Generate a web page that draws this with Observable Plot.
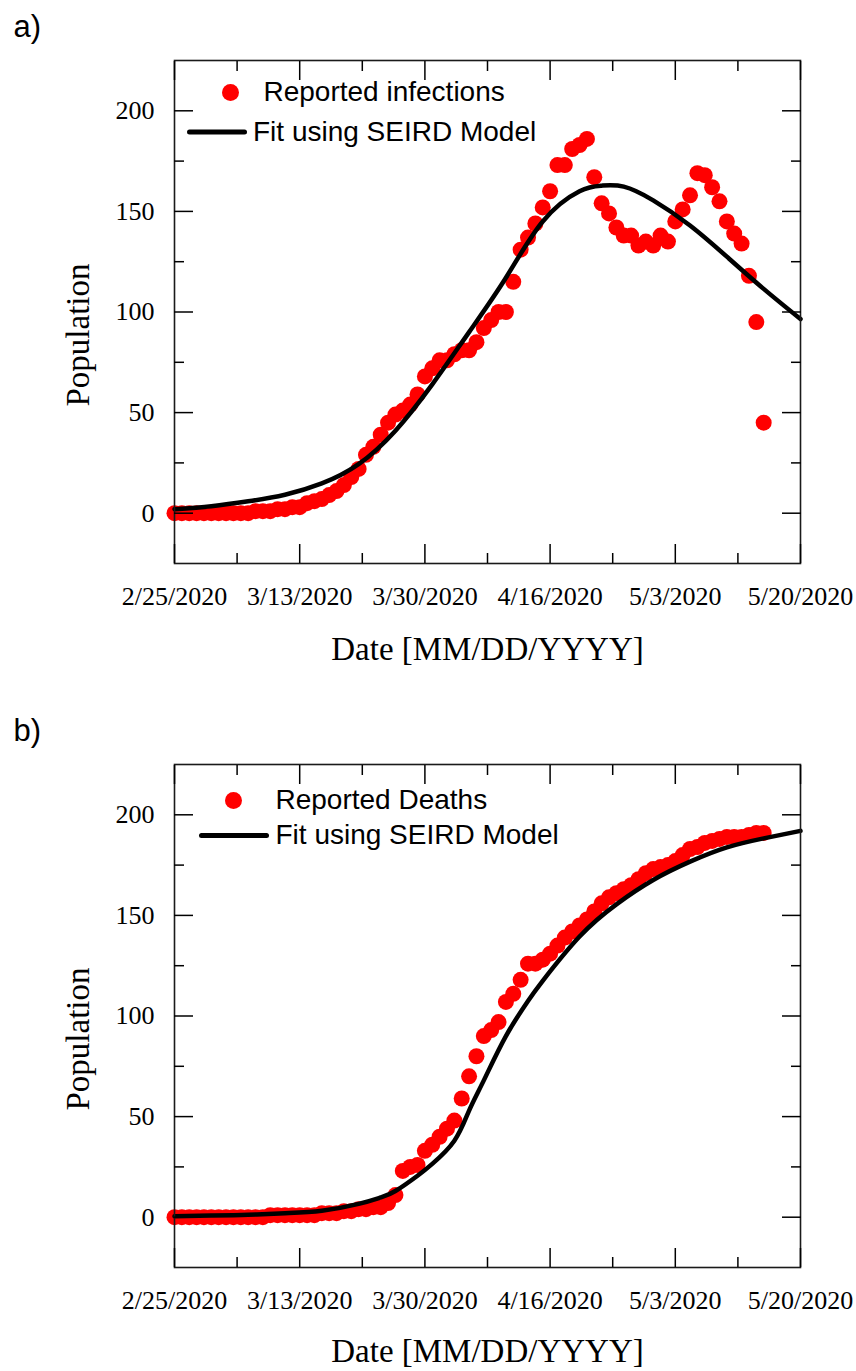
<!DOCTYPE html>
<html><head><meta charset="utf-8">
<script src="https://cdn.jsdelivr.net/npm/d3@7"></script>
<script src="https://cdn.jsdelivr.net/npm/@observablehq/plot@0.6"></script>
<style>
body{margin:0;background:#fff}
#wrap{width:856px}
#wrap svg{display:block;overflow:visible}
</style>
</head><body><div id="wrap"></div>
<script>
// x = days since 2/25/2020
const xTickDays = [0, 17, 34, 51, 68, 85];
const xTickLabels = ["2/25/2020", "3/13/2020", "3/30/2020", "4/16/2020", "5/3/2020", "5/20/2020"];
const xMinorDays = [8.5, 25.5, 42.5, 59.5, 76.5];
const yTicks = [0, 50, 100, 150, 200];
const yMinor = [25, 75, 125, 175];

// reported daily infections, day 0..80
const infections = [0,0,0,0,0,0,0,0,0,0, 0,1,1,1,2,2,3,3,5,6,
  7,9,11,14,18,22,29,33,39,45, 49,51,54,59,68,72,76,76,79,81,
  81,85,92,96,100,100,115,131,137,144, 152,160,173,173,181,183,186,167,154,149,
  142,138,138,133,135,133,138,135,145,151, 158,169,168,162,155,145,139,134,118,95,
  45];
// reported cumulative deaths, day 0..80
const deaths = [0,0,0,0,0,0,0,0,0,0, 0,0,0,1,1,1,1,1,1,1,
  2,2,2,3,3,4,4,5,5,7, 11,23,25,26,33,36,40,44,48,59,
  70,80,90,93,97,107,111,118,126,126, 128,131,135,139,142,145,148,152,156,159,
  161,163,165,168,171,173,174,175,177,180, 183,184,186,187,188,189,189,189,190,191,
  191];

const fitInfDays = [0,5,10,15,20,25,30,35,40,45,50,55,58,61,65,70,75,80,85];
const fitInfValues = [2,3.5,5.9,9.2,14.8,24.4,41,64,90,117,145,160,162.8,162.3,155.5,143,127.5,111.5,96.5];
const fitDeathDays = [0,5,10,15,20,25,28,30,33,35,38,40,42,45,48,50,55,60,65,70,75,80,85];
const fitDeathValues = [0.5,0.8,1.2,2,3.2,6.6,9.8,13,20.6,26.5,38,53,68,90,107.5,117.5,139.5,155.5,167.6,176.7,183.8,188.3,192];

const serif = "Liberation Serif, Times New Roman, serif";
const sans = "Liberation Sans, Arial, sans-serif";

function lineSym(len) {
  return {draw(ctx) { ctx.moveTo(-len / 2, 0); ctx.lineTo(len / 2, 0); }};
}

function panel(o) {
  const pts = o.values.map((v, i) => ({day: i, value: v}));
  const fit = o.fitDays.map((d, i) => ({day: d, value: o.fitVals[i]}));
  const tickFmt = d => xTickLabels[xTickDays.indexOf(d)];
  const blank = () => "";
  return Plot.plot({
    width: 856,
    height: o.height,
    marginLeft: 174,
    marginRight: 56,
    marginTop: 60,
    marginBottom: o.marginBottom,
    style: {fontFamily: serif, fontSize: "26px", color: "#000", background: "#fff", overflow: "visible"},
    x: {domain: [0, 85], label: null},
    y: {domain: [-25, 225], label: null},
    marks: [
      Plot.dot(pts, {x: "day", y: "value", r: 8, fill: "#ff0000"}),
      Plot.line(fit, {x: "day", y: "value", curve: "natural", stroke: "#000", strokeWidth: 4.5}),
      Plot.frame({stroke: "#1a1a1a", strokeWidth: 1.6}),
      // inward ticks on all sides
      Plot.axisX({anchor: "bottom", ticks: xTickDays, tickSize: -19, tickFormat: blank, label: null, strokeWidth: 1.5}),
      Plot.axisX({anchor: "bottom", ticks: xMinorDays, tickSize: -10, tickFormat: blank, label: null, strokeWidth: 1.5}),
      Plot.axisX({anchor: "top", ticks: xTickDays, tickSize: -19, tickFormat: blank, label: null, strokeWidth: 1.5}),
      Plot.axisX({anchor: "top", ticks: xMinorDays, tickSize: -10, tickFormat: blank, label: null, strokeWidth: 1.5}),
      Plot.axisY({anchor: "left", ticks: yTicks, tickSize: -19, tickFormat: blank, label: null, strokeWidth: 1.5}),
      Plot.axisY({anchor: "left", ticks: yMinor, tickSize: -10, tickFormat: blank, label: null, strokeWidth: 1.5}),
      Plot.axisY({anchor: "right", ticks: yTicks, tickSize: -19, tickFormat: blank, label: null, strokeWidth: 1.5}),
      Plot.axisY({anchor: "right", ticks: yMinor, tickSize: -10, tickFormat: blank, label: null, strokeWidth: 1.5}),
      // tick labels
      Plot.axisX({anchor: "bottom", ticks: xTickDays, tickSize: 0, tickPadding: 23.5, tickFormat: tickFmt, label: null, fontSize: 26}),
      Plot.axisY({anchor: "left", ticks: yTicks, tickSize: 0, tickPadding: 20, tickFormat: d => String(d), label: null, fontSize: 26}),
      // axis titles
      Plot.text(["Date [MM/DD/YYYY]"], {frameAnchor: "bottom", dy: o.dateDy, textAnchor: "middle", lineAnchor: "middle", fontSize: 33, fontFamily: serif}),
      Plot.text(["Population"], {frameAnchor: "left", rotate: -90, dx: -96.5, dy: 23, textAnchor: "middle", lineAnchor: "middle", fontSize: 33, fontFamily: serif}),
      // panel label
      Plot.text([o.label], {frameAnchor: "top-left", dx: -161, dy: -33, textAnchor: "start", lineAnchor: "middle", fontSize: 31, fontFamily: sans}),
      // legend
      Plot.dot([0], {frameAnchor: "top-left", dx: o.leg.dotX, dy: o.leg.dotY, r: 8.5, fill: "#ff0000"}),
      Plot.text([o.dotLabel], {frameAnchor: "top-left", dx: o.leg.textX1, dy: o.leg.dotY, textAnchor: "start", lineAnchor: "middle", fontSize: 28, fontFamily: sans}),
      Plot.dot([0], {frameAnchor: "top-left", dx: o.leg.lineX, dy: o.leg.lineY, r: 10, symbol: lineSym(o.leg.lineLen), fill: "none", stroke: "#000", strokeWidth: 5, strokeLinecap: "round"}),
      Plot.text([o.fitLabel], {frameAnchor: "top-left", dx: o.leg.textX2, dy: o.leg.lineY, textAnchor: "start", lineAnchor: "middle", fontSize: 28, fontFamily: sans})
    ]
  });
}

const wrap = document.getElementById("wrap");
wrap.appendChild(panel({
  label: "a)", values: infections, fitDays: fitInfDays, fitVals: fitInfValues,
  dotLabel: "Reported infections", fitLabel: "Fit using SEIRD Model",
  height: 704, marginBottom: 141, dateDy: 86,
  leg: {dotX: 56, dotY: 32, textX1: 89, lineX: 42.5, lineY: 71.5, lineLen: 55, textX2: 78.5}
}));
wrap.appendChild(panel({
  label: "b)", values: deaths, fitDays: fitDeathDays, fitVals: fitDeathValues,
  dotLabel: "Reported Deaths", fitLabel: "Fit using SEIRD Model",
  height: 667, marginBottom: 104, dateDy: 84,
  leg: {dotX: 59, dotY: 36, textX1: 101, lineX: 59.5, lineY: 71, lineLen: 65, textX2: 101}
}));
</script>
</body></html>
